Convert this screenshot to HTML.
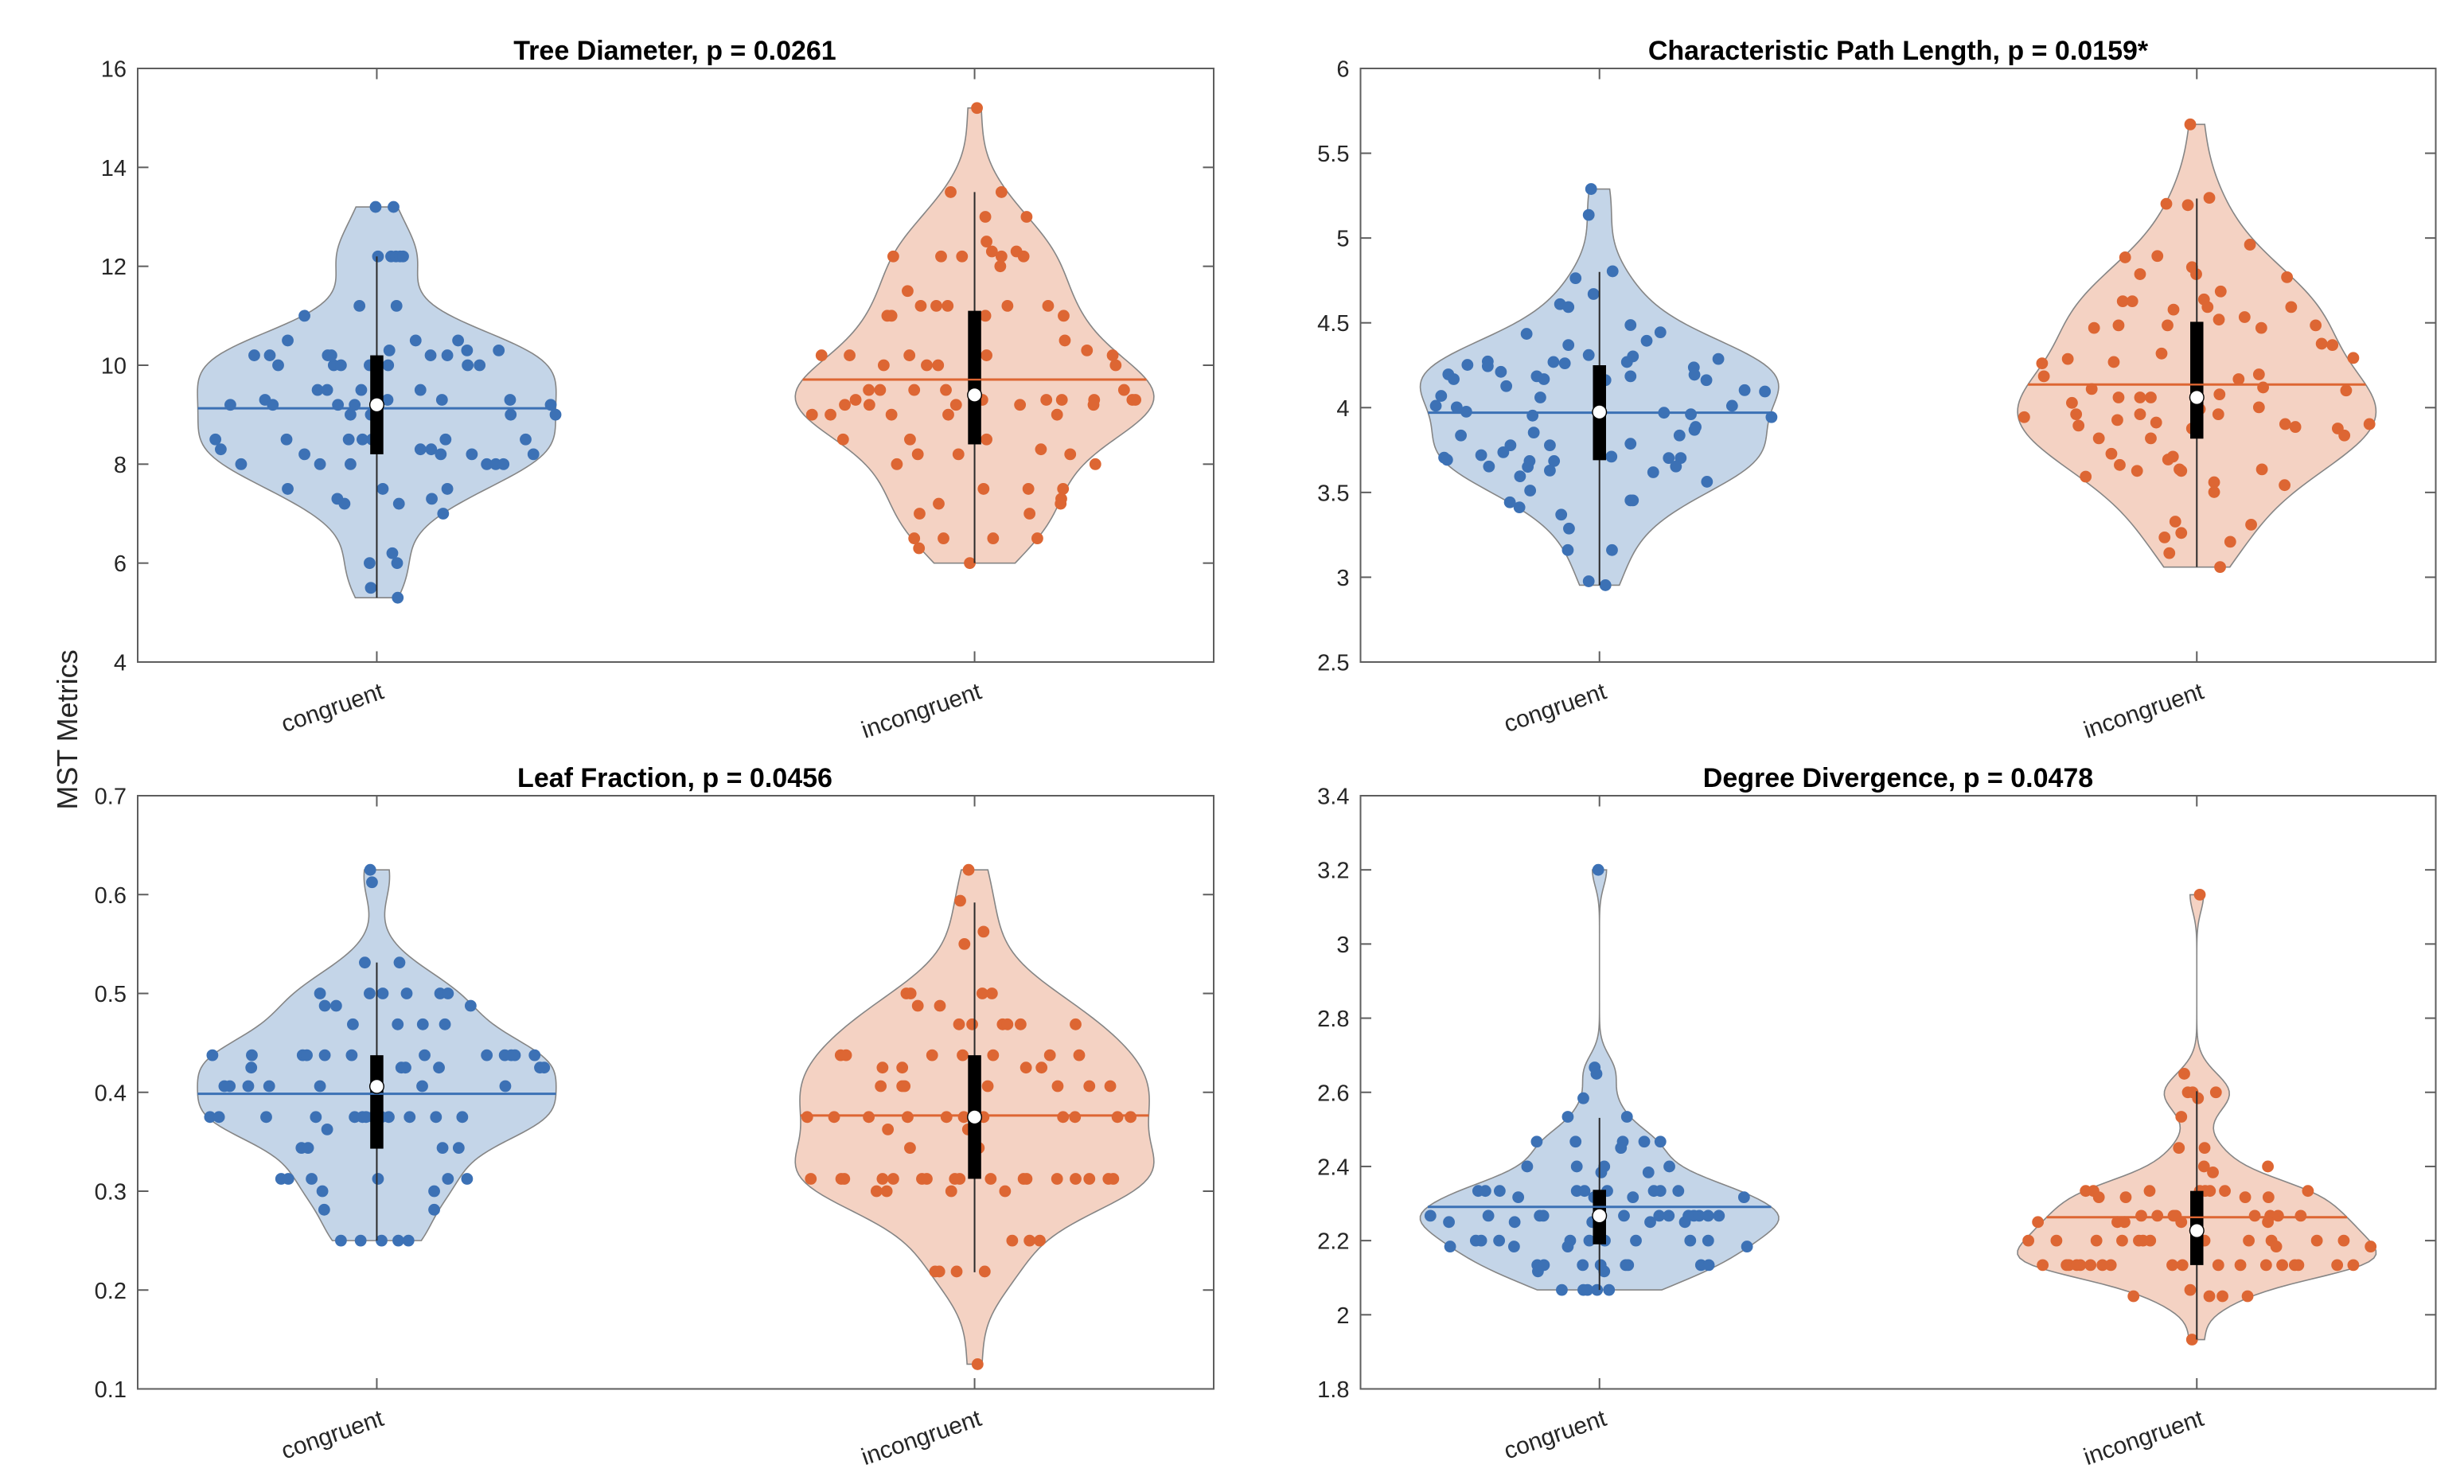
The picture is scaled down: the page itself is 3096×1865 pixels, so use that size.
<!DOCTYPE html>
<html lang="en">
<head>
<meta charset="utf-8">
<title>MST Metrics violin plots</title>
<style>
html,body{margin:0;padding:0;background:#fff;width:3096px;height:1865px;overflow:hidden}
svg{display:block;font-family:"Liberation Sans",Arial,sans-serif}
</style>
</head>
<body>
<svg id="figure" xmlns="http://www.w3.org/2000/svg" width="3096" height="1865" viewBox="0 0 3096 1865">
<rect x="0" y="0" width="3096" height="1865" fill="#ffffff"/>
<text x="848" y="75" text-anchor="middle" font-size="34" font-weight="bold" fill="#000">Tree Diameter, p = 0.0261</text>
<text x="2385" y="75" text-anchor="middle" font-size="34" font-weight="bold" fill="#000">Characteristic Path Length, p = 0.0159*</text>
<text x="848" y="989" text-anchor="middle" font-size="34" font-weight="bold" fill="#000">Leaf Fraction, p = 0.0456</text>
<text x="2385" y="989" text-anchor="middle" font-size="34" font-weight="bold" fill="#000">Degree Divergence, p = 0.0478</text>
<text transform="translate(97 917) rotate(-90)" text-anchor="middle" font-size="36" fill="#262626">MST Metrics</text>
</svg>
<script>
// Categories and tick labels
const categories = ['congruent', 'incongruent'];
const treeTicks = ['4','6','8','10','12','14','16'];
const pathTicks = ['2.5','3','3.5','4','4.5','5','5.5','6'];
const leafTicks = ['0.1','0.2','0.3','0.4','0.5','0.6','0.7'];
const degreeTicks = ['1.8','2','2.2','2.4','2.6','2.8','3','3.2','3.4'];

// Summary statistics: [congruent, incongruent]
const treeMeans = [9.13, 9.71];
const treeMedians = [9.2, 9.4];
const treeQ1 = [8.2, 8.4];
const treeQ3 = [10.2, 11.1];
const treeWhiskerLow = [5.3, 6.0];
const treeWhiskerHigh = [12.2, 13.5];
const treeBandwidth = [0.58, 0.72];

const pathMeans = [3.97, 4.136];
const pathMedians = [3.974, 4.06];
const pathQ1 = [3.69, 3.817];
const pathQ3 = [4.25, 4.506];
const pathWhiskerLow = [2.953, 3.06];
const pathWhiskerHigh = [4.80, 5.233];
const pathBandwidth = [0.18, 0.23];

const leafMeans = [0.3985, 0.3766];
const leafMedians = [0.406, 0.375];
const leafQ1 = [0.343, 0.3125];
const leafQ3 = [0.4375, 0.4375];
const leafWhiskerLow = [0.25, 0.218];
const leafWhiskerHigh = [0.53125, 0.592];
const leafBandwidth = [0.027, 0.036];

const degreeMeans = [2.291, 2.263];
const degreeMedians = [2.267, 2.227];
const degreeQ1 = [2.19, 2.134];
const degreeQ3 = [2.337, 2.334];
const degreeWhiskerLow = [2.067, 1.933];
const degreeWhiskerHigh = [2.531, 2.603];
const degreeBandwidth = [0.044, 0.045];

// Observations. Jitter is the horizontal offset from the category, in thousandths of a category unit.
const treeCongruentValues = [13.2,13.2,
12.2,12.2,12.2,12.2,12.2,
11.2,11.2,
11.0,
10.5,10.5,10.5,
10.3,10.3,10.3,
10.2,10.2,10.2,10.2,10.2,10.2,
10.0,10.0,10.0,10.0,10.0,10.0,10.0,
9.5,9.5,9.5,9.5,
9.3,9.3,9.3,9.3,
9.2,9.2,9.2,9.2,9.2,
9.0,9.0,9.0,9.0,
8.5,8.5,8.5,8.5,8.5,8.5,8.5,
8.3,8.3,8.3,
8.2,8.2,8.2,8.2,
8.0,8.0,8.0,8.0,8.0,8.0,
7.5,7.5,7.5,
7.3,7.3,
7.2,7.2,
7.0,
6.2,
6.0,6.0,
5.5,
5.3];
const treeCongruentJitter = [-2,28,
2,24,32,39,44,
-29,33,
-121,
-149,65,136,
21,151,204,
-205,-179,-82,-76,90,118,
-165,-72,-60,-12,19,152,172,
-99,-83,-26,73,
-187,18,109,223,
-245,-174,-65,-37,291,
-44,-10,224,299,
-151,-47,-24,-8,115,249,-270,
-261,73,91,
-121,107,159,262,
-227,-95,-44,184,199,212,
-149,10,118,
-66,92,
-54,37,
111,
26,
-12,34,
-10,
35];

const treeIncongruentValues = [15.2,
13.5,13.5,
13.0,13.0,
12.5,
12.3,12.3,
12.2,12.2,12.2,12.2,12.2,
12.0,
11.5,
11.2,11.2,11.2,11.2,11.2,
11.0,11.0,11.0,11.0,
10.5,
10.3,
10.2,10.2,10.2,10.2,10.2,
10.0,10.0,10.0,10.0,
9.5,9.5,9.5,9.5,9.5,
9.3,9.3,9.3,9.3,9.3,9.3,9.3,
9.2,9.2,9.2,9.2,9.2,
9.0,9.0,9.0,9.0,9.0,
8.5,8.5,8.5,
8.3,
8.2,8.2,8.2,
8.0,8.0,
7.5,7.5,7.5,
7.3,
7.2,7.2,
7.0,7.0,
6.5,6.5,6.5,6.5,
6.3,
6.0];
const treeIncongruentJitter = [4,
-40,45,
18,87,
20,
29,70,
-136,-56,-21,45,82,
43,
-112,
-90,-64,-45,55,123,
-146,-139,18,149,
151,
188,
-256,-209,-109,20,231,
-152,-80,-61,236,
-177,-158,-101,-48,250,
-199,13,120,146,200,264,269,
-217,-176,-31,76,199,
-272,-241,-139,-44,138,
-220,-108,20,
111,
-95,-27,160,
-130,202,
15,90,148,
145,
-60,144,
-92,92,
-101,-52,31,105,
-93,
-8];

const pathCongruentValues = [5.289,5.136,4.804,4.763,4.670,4.610,4.593,4.487,4.435,4.444,
4.394,4.369,4.310,4.302,4.269,4.269,4.261,4.287,4.237,4.272,
4.244,4.252,4.211,4.196,4.168,4.194,4.185,4.168,4.185,4.162,
4.162,4.127,4.103,4.095,4.069,4.060,4.011,4.002,4.011,3.976,
3.970,3.961,3.953,3.944,3.886,3.869,3.853,3.836,3.836,3.787,
3.778,3.778,3.737,3.720,3.711,3.705,3.692,3.703,3.703,3.685,
3.685,3.653,3.651,3.653,3.629,3.619,3.595,3.563,3.511,3.453,
3.453,3.442,3.412,3.369,3.287,3.160,3.160,2.976,2.953];
const pathCongruentJitter = [-14,-18,22,-40,-10,-66,-52,52,-122,102,
79,-52,-18,56,46,-77,-58,199,158,-187,
-187,-221,-165,-253,-244,159,-105,-93,52,10,
179,-156,243,277,-265,-99,-274,-239,222,-223,
108,153,-112,288,161,159,-110,-232,134,52,
-149,-83,-161,-198,20,-260,-255,116,136,-117,
-76,-185,-120,128,-83,90,-133,180,-116,52,
56,-150,-134,-64,-51,-53,21,-18,10];

const pathIncongruentValues = [5.670,5.237,5.202,5.194,4.961,4.886,4.894,4.828,4.787,4.787,
4.769,4.685,4.627,4.627,4.638,4.593,4.593,4.578,4.534,4.519,
4.485,4.485,4.485,4.470,4.470,4.377,4.369,4.319,4.293,4.287,
4.269,4.261,4.196,4.185,4.168,4.110,4.119,4.101,4.078,4.060,
4.060,4.060,4.028,4.002,3.991,3.961,3.961,3.961,3.944,3.927,
3.912,3.903,3.886,3.894,3.903,3.877,3.836,3.877,3.819,3.819,
3.728,3.711,3.694,3.662,3.636,3.627,3.627,3.636,3.560,3.502,
3.593,3.543,3.310,3.328,3.261,3.235,3.209,3.142,3.060];
const pathIncongruentJitter = [-11,21,-51,-15,89,-120,-66,-8,-95,-1,
151,40,-124,-108,12,18,158,-39,80,37,
-131,-49,199,-172,108,209,227,-59,262,-216,
-139,-259,104,-256,70,-176,111,250,38,-131,
-95,-77,-209,104,5,-202,-95,36,-289,-133,
-68,148,165,-198,289,236,247,-8,-164,-77,
-143,-40,-48,-129,-29,-26,-100,109,29,29,
-186,147,91,-36,-26,-54,56,-46,39];

const leafCongruentValues = [0.625,
0.6125,
0.53125,0.53125,
0.5,0.5,0.5,0.5,0.5,0.5,
0.4875,0.4875,0.4875,
0.46875,0.46875,0.46875,0.46875,
0.4375,0.4375,0.4375,0.4375,0.4375,0.4375,0.4375,0.4375,0.4375,0.4375,0.4375,0.4375,
0.425,0.425,0.425,0.425,0.425,0.425,
0.40625,0.40625,0.40625,0.40625,0.40625,0.40625,0.40625,
0.375,0.375,0.375,0.375,0.375,0.375,0.375,0.375,0.375,0.375,0.375,0.375,0.375,0.375,0.375,0.375,0.375,
0.3625,
0.34375,0.34375,0.34375,0.34375,
0.3125,0.3125,0.3125,0.3125,0.3125,0.3125,
0.3,0.3,
0.28125,0.28125,
0.25,0.25,0.25,0.25,0.25];
const leafCongruentJitter = [-11,
-8,
-20,38,
-95,-12,10,50,106,119,
-87,-68,157,
-40,35,77,114,
-275,-209,-124,-117,-87,-42,80,184,214,225,231,264,
-210,41,48,104,273,280,
-255,-246,-215,-180,-95,76,215,
-279,-264,-185,-102,-37,-24,-18,20,55,99,143,-6,-3,0,3,6,8,
-83,
-126,-115,110,137,
-160,-148,-109,2,119,151,
-91,96,
-88,96,
-60,-27,8,36,53];

const leafIncongruentValues = [0.625,
0.59375,
0.5625,
0.55,
0.5,0.5,0.5,0.5,
0.4875,0.4875,
0.46875,0.46875,0.46875,0.46875,0.46875,0.46875,
0.4375,0.4375,0.4375,0.4375,0.4375,0.4375,0.4375,
0.425,0.425,0.425,0.425,
0.40625,0.40625,0.40625,0.40625,0.40625,0.40625,0.40625,
0.375,0.375,0.375,0.375,0.375,0.375,0.375,0.375,0.375,0.375,0.375,
0.3625,0.3625,
0.34375,0.34375,
0.3125,0.3125,0.3125,0.3125,0.3125,0.3125,0.3125,0.3125,0.3125,0.3125,0.3125,0.3125,0.3125,0.3125,0.3125,0.3125,0.3125,
0.3,0.3,0.3,0.3,
0.25,0.25,0.25,
0.21875,0.21875,0.21875,0.21875,
0.125];
const leafIncongruentJitter = [-10,
-24,
15,
-17,
-114,-107,13,29,
-95,-58,
-26,-4,47,55,77,169,
-224,-215,-71,-20,31,126,175,
-154,-121,86,112,
-157,-121,-117,22,139,192,227,
-280,-235,-177,-112,-47,-18,15,148,168,239,261,
-145,-11,
-108,7,
-274,-223,-218,-154,-136,-88,-80,-33,-25,27,82,87,138,169,192,224,232,
-164,-147,-39,51,
63,92,109,
-66,-59,-30,17,
5];

const degreeCongruentValues = [3.2,
2.667,
2.65,
2.584,
2.534,2.534,
2.467,2.467,2.467,2.467,2.467,
2.45,
2.4,2.4,2.4,2.4,
2.384,2.384,
2.334,2.334,2.334,2.334,2.334,2.334,2.334,2.334,2.334,
2.317,2.317,2.317,2.317,
2.267,2.267,2.267,2.267,2.267,2.267,2.267,2.267,2.267,2.267,2.267,2.267,
2.25,2.25,2.25,2.25,2.25,
2.2,2.2,2.2,2.2,2.2,2.2,2.2,2.2,2.2,
2.184,2.184,2.184,2.184,
2.134,2.134,2.134,2.134,2.134,2.134,2.134,2.134,
2.117,2.117,
2.067,2.067,2.067,2.067,2.067];
const degreeCongruentJitter = [-2,
-8,
-5,
-27,
-53,46,
-105,-40,39,75,102,
36,
-121,-38,8,117,
3,82,
-203,-191,-167,-38,-25,13,91,102,132,
-136,-9,56,242,
-283,-186,-100,-94,41,100,116,149,158,167,182,200,
-252,-142,-12,85,143,
-207,-198,-168,-49,-17,9,61,152,182,
-250,-143,-53,247,
-104,-93,-28,2,44,48,170,183,
-103,8,
-63,-27,-20,-4,16];

const degreeIncongruentValues = [3.133,
2.65,
2.6,2.6,2.6,
2.584,
2.534,
2.45,2.45,
2.4,2.4,
2.384,
2.334,2.334,2.334,2.334,2.334,2.334,2.334,2.334,
2.317,2.317,2.317,2.317,
2.267,2.267,2.267,2.267,2.267,2.267,2.267,2.267,
2.25,2.25,2.25,2.25,2.25,
2.2,2.2,2.2,2.2,2.2,2.2,2.2,2.2,2.2,2.2,2.2,2.2,
2.184,2.184,
2.134,2.134,2.134,2.134,2.134,2.134,2.134,2.134,2.134,2.134,2.134,2.134,2.134,2.134,2.134,2.134,2.134,2.134,
2.067,
2.05,2.05,2.05,2.05,
1.933];
const degreeIncongruentJitter = [5,
-21,
-15,-7,32,
2,
-26,
-30,13,
12,119,
27,
-186,-173,-79,5,14,22,47,186,
-164,-119,81,120,
-93,-66,-39,-35,97,123,136,174,
-266,-133,-121,-26,119,
-282,-235,-168,-125,-97,-90,-78,13,87,125,201,246,
133,291,
-258,-218,-214,-201,-195,-178,-158,-144,-41,-24,36,73,116,143,164,170,235,262,
-11,
-106,21,43,85,
-8];

// Axis helpers
const SVG_NS = 'http://www.w3.org/2000/svg';
const figure = document.getElementById('figure');
const SERIES_DOT = ['#3c71b5', '#dd6633'];
const SERIES_FILL = ['#c4d5e8', '#f4d2c3'];
const AXIS_COLOR = '#5e5e5e';
const TICK_LEN = 13.5;
const X_MIN = 0.6;
const X_MAX = 2.4;
const HALF_WIDTH_UNITS = 0.3;

function make(tag, attrs, parent) {
  const el = document.createElementNS(SVG_NS, tag);
  Object.keys(attrs).forEach(function (k) { el.setAttribute(k, attrs[k]); });
  parent.appendChild(el);
  return el;
}

function kde(values, h, y) {
  let sum = 0;
  values.forEach(function (v) {
    const u = (y - v) / h;
    sum += Math.exp(-0.5 * u * u);
  });
  return sum;
}

function drawViolin(panelGroup, panel, i, xScale, yScale) {
  const key = panel.key + '-' + categories[i];
  const values = panel.values[i];
  const jitter = panel.jitter[i];
  const h = panel.bandwidth[i];
  const cat = i + 1;
  const lo = Math.min.apply(null, values);
  const hi = Math.max.apply(null, values);
  const n = 120;
  const samples = [];
  let peak = 0;
  for (let s = 0; s <= n; s++) {
    const y = lo + (hi - lo) * s / n;
    const d = kde(values, h, y);
    samples.push([y, d]);
    if (d > peak) peak = d;
  }
  const widthOf = function (d) { return HALF_WIDTH_UNITS * d / peak; };
  let path = '';
  samples.forEach(function (p, idx) {
    path += (idx ? 'L' : 'M') + xScale(cat + widthOf(p[1])).toFixed(2) + ' ' + yScale(p[0]).toFixed(2);
  });
  for (let s = n; s >= 0; s--) {
    path += 'L' + xScale(cat - widthOf(samples[s][1])).toFixed(2) + ' ' + yScale(samples[s][0]).toFixed(2);
  }
  path += 'Z';

  const g = make('g', {}, panelGroup);
  
  

  const body = make('path', { d: path, fill: SERIES_FILL[i], stroke: '#858585', 'stroke-width': 1.6 }, g);
  
  

  const mean = panel.means[i];
  const meanHalf = widthOf(kde(values, h, mean));
  const meanLine = make('line', {
    x1: xScale(cat - meanHalf), x2: xScale(cat + meanHalf),
    y1: yScale(mean), y2: yScale(mean),
    stroke: SERIES_DOT[i], 'stroke-width': 3
  }, g);
  
  

  values.forEach(function (v, idx) {
    const dot = make('circle', {
      cx: xScale(cat + jitter[idx] / 1000), cy: yScale(v), r: 7.4, fill: SERIES_DOT[i]
    }, g);
    
    
  });

  const whisker = make('line', {
    x1: xScale(cat), x2: xScale(cat),
    y1: yScale(panel.whiskerLow[i]), y2: yScale(panel.whiskerHigh[i]),
    stroke: '#2a2a2a', 'stroke-width': 2
  }, g);
  
  

  const box = make('rect', {
    x: xScale(cat) - 8.25, width: 16.5,
    y: yScale(panel.q3[i]), height: yScale(panel.q1[i]) - yScale(panel.q3[i]),
    fill: '#000'
  }, g);
  
  

  const meanOnBox = make('line', {
    x1: xScale(cat) - 8.25, x2: xScale(cat) + 8.25,
    y1: yScale(mean), y2: yScale(mean),
    stroke: SERIES_DOT[i], 'stroke-width': 2.4
  }, g);
  
  

  const median = make('circle', {
    cx: xScale(cat), cy: yScale(panel.medians[i]), r: 8.8,
    fill: '#fff', stroke: '#000', 'stroke-width': 1.4
  }, g);
  
  
}

function drawPanel(panel) {
  const left = panel.left, right = panel.right, top = panel.top, bottom = panel.bottom;
  const xScale = function (x) { return left + (x - X_MIN) / (X_MAX - X_MIN) * (right - left); };
  const yScale = function (y) { return bottom - (y - panel.yMin) / (panel.yMax - panel.yMin) * (bottom - top); };

  const group = make('g', {}, figure);
  
  

  categories.forEach(function (c, i) { drawViolin(group, panel, i, xScale, yScale); });

  const frame = make('rect', {
    x: left, y: top, width: right - left, height: bottom - top,
    fill: 'none', stroke: AXIS_COLOR, 'stroke-width': 2
  }, group);
  
  

  panel.ticks.forEach(function (label) {
    const v = parseFloat(label);
    const y = yScale(v);
    const tickL = make('line', { x1: left, x2: left + TICK_LEN, y1: y, y2: y, stroke: AXIS_COLOR, 'stroke-width': 2 }, group);
    
    
    const tickR = make('line', { x1: right - TICK_LEN, x2: right, y1: y, y2: y, stroke: AXIS_COLOR, 'stroke-width': 2 }, group);
    
    
    const text = make('text', {
      x: left - 14, y: y + 10.5, 'text-anchor': 'end', 'font-size': 29, fill: '#262626'
    }, group);
    text.textContent = label;
    
    
  });

  categories.forEach(function (c, i) {
    const x = xScale(i + 1);
    const tickB = make('line', { x1: x, x2: x, y1: bottom - TICK_LEN, y2: bottom, stroke: AXIS_COLOR, 'stroke-width': 2 }, group);
    
    
    const tickT = make('line', { x1: x, x2: x, y1: top, y2: top + TICK_LEN, stroke: AXIS_COLOR, 'stroke-width': 2 }, group);
    
    
    const label = make('text', {
      transform: 'translate(' + (x + 10.5) + ' ' + (bottom + 45) + ') rotate(-19)',
      'text-anchor': 'end', 'font-size': 30, fill: '#262626'
    }, group);
    label.textContent = c;
    
    
  });
}

drawPanel({
  key: 'tree-diameter', left: 173, right: 1525, top: 86, bottom: 832, yMin: 4, yMax: 16, ticks: treeTicks,
  values: [treeCongruentValues, treeIncongruentValues], jitter: [treeCongruentJitter, treeIncongruentJitter],
  means: treeMeans, medians: treeMedians, q1: treeQ1, q3: treeQ3,
  whiskerLow: treeWhiskerLow, whiskerHigh: treeWhiskerHigh, bandwidth: treeBandwidth
});
drawPanel({
  key: 'path-length', left: 1709.5, right: 3060.5, top: 86, bottom: 832, yMin: 2.5, yMax: 6, ticks: pathTicks,
  values: [pathCongruentValues, pathIncongruentValues], jitter: [pathCongruentJitter, pathIncongruentJitter],
  means: pathMeans, medians: pathMedians, q1: pathQ1, q3: pathQ3,
  whiskerLow: pathWhiskerLow, whiskerHigh: pathWhiskerHigh, bandwidth: pathBandwidth
});
drawPanel({
  key: 'leaf-fraction', left: 173, right: 1525, top: 1000, bottom: 1745.5, yMin: 0.1, yMax: 0.7, ticks: leafTicks,
  values: [leafCongruentValues, leafIncongruentValues], jitter: [leafCongruentJitter, leafIncongruentJitter],
  means: leafMeans, medians: leafMedians, q1: leafQ1, q3: leafQ3,
  whiskerLow: leafWhiskerLow, whiskerHigh: leafWhiskerHigh, bandwidth: leafBandwidth
});
drawPanel({
  key: 'degree-divergence', left: 1709.5, right: 3060.5, top: 1000, bottom: 1745.5, yMin: 1.8, yMax: 3.4, ticks: degreeTicks,
  values: [degreeCongruentValues, degreeIncongruentValues], jitter: [degreeCongruentJitter, degreeIncongruentJitter],
  means: degreeMeans, medians: degreeMedians, q1: degreeQ1, q3: degreeQ3,
  whiskerLow: degreeWhiskerLow, whiskerHigh: degreeWhiskerHigh, bandwidth: degreeBandwidth
});
</script>
</body>
</html>
